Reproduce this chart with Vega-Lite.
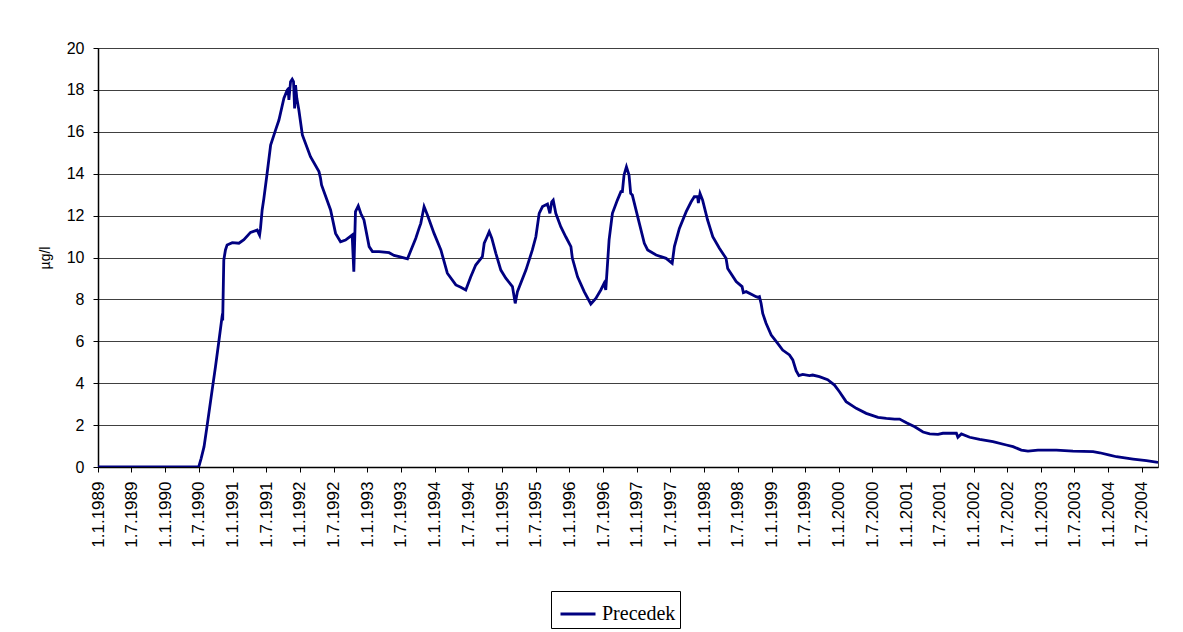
{
  "$schema": "https://vega.github.io/schema/vega-lite/v6.json",
  "autosize": "none",
  "width": 1060,
  "height": 419,
  "padding": {"left": 98, "top": 48, "right": 25, "bottom": 165},
  "background": "white",
  "config": {
    "view": {"stroke": "#404040", "strokeWidth": 1},
    "axis": {"labelFont": "Liberation Sans", "titleFont": "Liberation Sans", "labelColor": "black", "titleColor": "black", "domainColor": "black", "tickColor": "black"}
  },
  "data": {"values": [
    {"d": "1989-01-01", "v": 0},
    {"d": "1990-07-01", "v": 0},
    {"d": "1990-07-14", "v": 0.4},
    {"d": "1990-07-30", "v": 0.97},
    {"d": "1990-08-16", "v": 2.0},
    {"d": "1990-09-12", "v": 3.68},
    {"d": "1990-09-30", "v": 4.79},
    {"d": "1990-10-18", "v": 5.98},
    {"d": "1990-11-05", "v": 7.2},
    {"d": "1990-11-07", "v": 7.3},
    {"d": "1990-11-08", "v": 7.0},
    {"d": "1990-11-14", "v": 9.88},
    {"d": "1990-11-23", "v": 10.36},
    {"d": "1990-12-02", "v": 10.6},
    {"d": "1990-12-30", "v": 10.71},
    {"d": "1991-02-04", "v": 10.68},
    {"d": "1991-03-03", "v": 10.85},
    {"d": "1991-04-08", "v": 11.2},
    {"d": "1991-05-14", "v": 11.31},
    {"d": "1991-05-27", "v": 11.07},
    {"d": "1991-06-01", "v": 11.39},
    {"d": "1991-06-10", "v": 12.27},
    {"d": "1991-06-19", "v": 12.8},
    {"d": "1991-07-07", "v": 14.02},
    {"d": "1991-07-26", "v": 15.37},
    {"d": "1991-08-22", "v": 16.09},
    {"d": "1991-09-09", "v": 16.56},
    {"d": "1991-10-06", "v": 17.6},
    {"d": "1991-10-24", "v": 18.0},
    {"d": "1991-10-29", "v": 18.05},
    {"d": "1991-11-02", "v": 17.52},
    {"d": "1991-11-11", "v": 18.39},
    {"d": "1991-11-20", "v": 18.51},
    {"d": "1991-11-27", "v": 18.4},
    {"d": "1991-12-03", "v": 17.12},
    {"d": "1991-12-08", "v": 18.23},
    {"d": "1991-12-15", "v": 17.6},
    {"d": "1991-12-26", "v": 17.04},
    {"d": "1992-01-14", "v": 15.85},
    {"d": "1992-02-27", "v": 14.81},
    {"d": "1992-04-13", "v": 14.1},
    {"d": "1992-04-21", "v": 13.8},
    {"d": "1992-04-27", "v": 13.46},
    {"d": "1992-06-15", "v": 12.27},
    {"d": "1992-07-12", "v": 11.15},
    {"d": "1992-08-08", "v": 10.75},
    {"d": "1992-09-04", "v": 10.83},
    {"d": "1992-10-10", "v": 11.07},
    {"d": "1992-10-19", "v": 9.32},
    {"d": "1992-10-28", "v": 12.19},
    {"d": "1992-11-12", "v": 12.46},
    {"d": "1992-11-26", "v": 12.1},
    {"d": "1992-12-13", "v": 11.79},
    {"d": "1993-01-10", "v": 10.52},
    {"d": "1993-01-28", "v": 10.28},
    {"d": "1993-03-05", "v": 10.28},
    {"d": "1993-04-28", "v": 10.23},
    {"d": "1993-05-25", "v": 10.1},
    {"d": "1993-06-22", "v": 10.04},
    {"d": "1993-08-06", "v": 9.94},
    {"d": "1993-09-20", "v": 10.92},
    {"d": "1993-10-08", "v": 11.4},
    {"d": "1993-10-17", "v": 11.63},
    {"d": "1993-11-04", "v": 12.43},
    {"d": "1993-11-22", "v": 12.03},
    {"d": "1993-12-28", "v": 11.15},
    {"d": "1994-02-03", "v": 10.36},
    {"d": "1994-03-10", "v": 9.25},
    {"d": "1994-04-25", "v": 8.69},
    {"d": "1994-05-22", "v": 8.58},
    {"d": "1994-06-18", "v": 8.45},
    {"d": "1994-07-15", "v": 9.08},
    {"d": "1994-08-11", "v": 9.64},
    {"d": "1994-09-16", "v": 10.04},
    {"d": "1994-09-26", "v": 10.68},
    {"d": "1994-10-08", "v": 10.92},
    {"d": "1994-10-23", "v": 11.23},
    {"d": "1994-11-06", "v": 10.92},
    {"d": "1994-11-28", "v": 10.2},
    {"d": "1994-12-25", "v": 9.4},
    {"d": "1995-01-21", "v": 9.01},
    {"d": "1995-02-26", "v": 8.61},
    {"d": "1995-03-13", "v": 7.81},
    {"d": "1995-03-25", "v": 8.37},
    {"d": "1995-05-10", "v": 9.4},
    {"d": "1995-06-14", "v": 10.36},
    {"d": "1995-07-03", "v": 10.99},
    {"d": "1995-07-21", "v": 12.11},
    {"d": "1995-08-08", "v": 12.43},
    {"d": "1995-09-04", "v": 12.55},
    {"d": "1995-09-17", "v": 12.11},
    {"d": "1995-09-27", "v": 12.66},
    {"d": "1995-10-05", "v": 12.74},
    {"d": "1995-10-19", "v": 12.11},
    {"d": "1995-11-15", "v": 11.47},
    {"d": "1995-12-12", "v": 10.99},
    {"d": "1996-01-09", "v": 10.52},
    {"d": "1996-01-17", "v": 9.96},
    {"d": "1996-02-14", "v": 9.08},
    {"d": "1996-03-21", "v": 8.37},
    {"d": "1996-04-26", "v": 7.78},
    {"d": "1996-05-23", "v": 8.05},
    {"d": "1996-06-19", "v": 8.45},
    {"d": "1996-07-07", "v": 8.77},
    {"d": "1996-07-16", "v": 8.45},
    {"d": "1996-08-03", "v": 10.84},
    {"d": "1996-08-21", "v": 12.11},
    {"d": "1996-09-17", "v": 12.74},
    {"d": "1996-10-06", "v": 13.14},
    {"d": "1996-10-14", "v": 13.14},
    {"d": "1996-10-23", "v": 13.94},
    {"d": "1996-11-05", "v": 14.33},
    {"d": "1996-11-19", "v": 13.94},
    {"d": "1996-11-28", "v": 13.06},
    {"d": "1996-12-07", "v": 12.98},
    {"d": "1997-01-14", "v": 11.63},
    {"d": "1997-02-10", "v": 10.68},
    {"d": "1997-02-28", "v": 10.36},
    {"d": "1997-04-15", "v": 10.12},
    {"d": "1997-06-08", "v": 9.96},
    {"d": "1997-07-11", "v": 9.72},
    {"d": "1997-07-23", "v": 10.52},
    {"d": "1997-08-19", "v": 11.39},
    {"d": "1997-09-25", "v": 12.19},
    {"d": "1997-10-22", "v": 12.66},
    {"d": "1997-11-08", "v": 12.9},
    {"d": "1997-11-26", "v": 12.9},
    {"d": "1997-11-30", "v": 12.6},
    {"d": "1997-12-09", "v": 13.06},
    {"d": "1997-12-23", "v": 12.74},
    {"d": "1998-01-19", "v": 11.79},
    {"d": "1998-02-16", "v": 10.99},
    {"d": "1998-03-24", "v": 10.44},
    {"d": "1998-04-29", "v": 9.96},
    {"d": "1998-05-08", "v": 9.48},
    {"d": "1998-06-23", "v": 8.85},
    {"d": "1998-07-25", "v": 8.61},
    {"d": "1998-08-01", "v": 8.32},
    {"d": "1998-08-16", "v": 8.37},
    {"d": "1998-09-21", "v": 8.21},
    {"d": "1998-10-09", "v": 8.13},
    {"d": "1998-10-18", "v": 8.1},
    {"d": "1998-10-27", "v": 8.13},
    {"d": "1998-11-05", "v": 7.81},
    {"d": "1998-11-14", "v": 7.33},
    {"d": "1998-12-02", "v": 6.86},
    {"d": "1998-12-30", "v": 6.3},
    {"d": "1999-02-03", "v": 5.9},
    {"d": "1999-03-02", "v": 5.58},
    {"d": "1999-04-08", "v": 5.35},
    {"d": "1999-04-26", "v": 5.11},
    {"d": "1999-05-14", "v": 4.6},
    {"d": "1999-05-29", "v": 4.36},
    {"d": "1999-06-19", "v": 4.42},
    {"d": "1999-07-25", "v": 4.36},
    {"d": "1999-08-12", "v": 4.39},
    {"d": "1999-09-17", "v": 4.31},
    {"d": "1999-11-01", "v": 4.17},
    {"d": "1999-12-08", "v": 3.91},
    {"d": "2000-01-04", "v": 3.59},
    {"d": "2000-02-09", "v": 3.12},
    {"d": "2000-04-04", "v": 2.8},
    {"d": "2000-05-28", "v": 2.56},
    {"d": "2000-07-31", "v": 2.37},
    {"d": "2000-09-14", "v": 2.32},
    {"d": "2000-10-29", "v": 2.29},
    {"d": "2000-11-25", "v": 2.29},
    {"d": "2001-01-01", "v": 2.11},
    {"d": "2001-02-15", "v": 1.92},
    {"d": "2001-04-01", "v": 1.67},
    {"d": "2001-05-07", "v": 1.58},
    {"d": "2001-06-21", "v": 1.56},
    {"d": "2001-07-18", "v": 1.61},
    {"d": "2001-09-29", "v": 1.61},
    {"d": "2001-10-07", "v": 1.42},
    {"d": "2001-10-26", "v": 1.58},
    {"d": "2001-12-10", "v": 1.42},
    {"d": "2002-02-02", "v": 1.32},
    {"d": "2002-04-15", "v": 1.21},
    {"d": "2002-06-27", "v": 1.05},
    {"d": "2002-08-02", "v": 0.97},
    {"d": "2002-09-16", "v": 0.81},
    {"d": "2002-10-22", "v": 0.76},
    {"d": "2002-12-15", "v": 0.81},
    {"d": "2003-03-25", "v": 0.81},
    {"d": "2003-06-23", "v": 0.76},
    {"d": "2003-10-10", "v": 0.73},
    {"d": "2003-11-15", "v": 0.68},
    {"d": "2004-01-08", "v": 0.57},
    {"d": "2004-02-14", "v": 0.49},
    {"d": "2004-05-14", "v": 0.38},
    {"d": "2004-07-25", "v": 0.3},
    {"d": "2004-09-26", "v": 0.22}
  ]},
  "mark": {"type": "line", "strokeWidth": 2.8, "clip": true},
  "encoding": {
    "x": {
      "field": "d", "type": "temporal",
      "scale": {"type": "utc", "nice": false, "domain": [{"year": 1989, "month": 1, "date": 1, "utc": true}, {"year": 2004, "month": 9, "date": 26, "utc": true}]},
      "axis": {
        "title": null,
        "grid": false,
        "tickCount": {"interval": "month", "step": 6},
        "labelExpr": "utcdate(datum.value) + '.' + (utcmonth(datum.value) + 1) + '.' + utcyear(datum.value)",
        "labelAngle": -90,
        "labelFontSize": 17,
        "labelPadding": 9,
        "tickSize": 5,
        "labelOverlap": false,
        "labelFlush": false,
        "domainWidth": 1.5
      }
    },
    "y": {
      "field": "v", "type": "quantitative",
      "scale": {"domain": [0, 20], "nice": false},
      "axis": {
        "title": "µg/l",
        "titleFontSize": 14,
        "titleFontWeight": "normal",
        "titlePadding": 14,
        "values": [0, 2, 4, 6, 8, 10, 12, 14, 16, 18, 20],
        "labelFontSize": 16,
        "labelPadding": 9,
        "tickSize": 5,
        "grid": true,
        "gridColor": "#404040",
        "gridWidth": 1,
        "domainWidth": 1.5
      }
    },
    "color": {
      "datum": "Precedek",
      "type": "nominal",
      "scale": {"range": ["#000080"]},
      "legend": {
        "title": null,
        "orient": "none",
        "legendX": 453,
        "legendY": 543,
        "strokeColor": "black",
        "padding": 4,
        "symbolOffset": 4,
        "symbolType": "stroke",
        "symbolSize": 1225,
        "symbolStrokeWidth": 3,
        "labelFont": "Liberation Serif",
        "labelFontSize": 20,
        "labelColor": "black",
        "labelOffset": 5
      }
    }
  }
}
